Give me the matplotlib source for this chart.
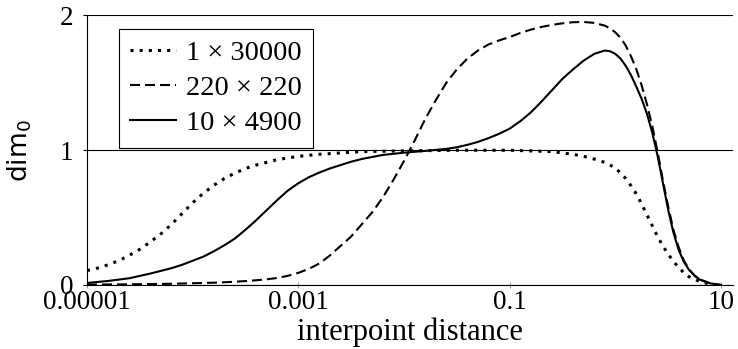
import numpy as np
import matplotlib
matplotlib.use("Agg")
import matplotlib.pyplot as plt

plt.rcParams['font.family'] = ['Liberation Serif', 'DejaVu Serif']
plt.rcParams['mathtext.fontset'] = 'dejavusans'
plt.rcParams['lines.scale_dashes'] = False

# curves, x given as log10(interpoint distance)
dotted_logx = [-5.0, -4.9, -4.8, -4.7, -4.6, -4.5, -4.4, -4.3, -4.2, -4.1, -4.0,
               -3.9, -3.8, -3.7, -3.6, -3.5, -3.4, -3.2, -3.0, -2.8, -2.6, -2.4,
               -2.0, -1.5, -1.0, -0.8, -0.6, -0.4, -0.3, -0.2, -0.1, 0.0, 0.05,
               0.1, 0.15, 0.2, 0.25, 0.3, 0.35, 0.4, 0.45, 0.5, 0.55, 0.6, 0.65,
               0.7, 0.8, 0.9, 0.95]
dotted_dim = [0.107, 0.125, 0.15, 0.18, 0.22, 0.265, 0.32, 0.38, 0.45, 0.53, 0.61,
              0.68, 0.74, 0.79, 0.83, 0.865, 0.89, 0.93, 0.955, 0.97, 0.98, 0.99,
              0.995, 1.0, 1.0, 0.995, 0.99, 0.97, 0.955, 0.935, 0.91, 0.87, 0.83,
              0.79, 0.735, 0.675, 0.6, 0.52, 0.44, 0.36, 0.29, 0.23, 0.175, 0.13, 0.09,
              0.06, 0.025, 0.006, 0.0]

dashed_logx = [-5.0, -4.6, -4.2, -3.8, -3.6, -3.4, -3.3, -3.2, -3.1, -3.0, -2.9,
               -2.8, -2.7, -2.6, -2.5, -2.4, -2.3, -2.2, -2.1, -2.0, -1.9, -1.8,
               -1.7, -1.6, -1.5, -1.4, -1.3, -1.2, -1.1, -1.0, -0.9, -0.8, -0.7,
               -0.6, -0.5, -0.4, -0.3, -0.2, -0.1, -0.05, 0.0, 0.05, 0.1, 0.15,
               0.2, 0.25, 0.3, 0.35, 0.4, 0.45, 0.5, 0.55, 0.6, 0.65, 0.7, 0.75,
               0.8, 0.9, 1.0]
dashed_dim = [0.003, 0.005, 0.009, 0.017, 0.024, 0.035, 0.042, 0.052, 0.068, 0.09, 0.12,
              0.16, 0.22, 0.29, 0.36, 0.45, 0.54, 0.65, 0.78, 0.92, 1.07, 1.23,
              1.37, 1.5, 1.6, 1.68, 1.74, 1.785, 1.815, 1.84, 1.87, 1.895, 1.915,
              1.93, 1.942, 1.95, 1.952, 1.945, 1.925, 1.905, 1.875, 1.835, 1.775, 1.695,
              1.6, 1.48, 1.34, 1.18, 0.99, 0.78, 0.585, 0.41, 0.28, 0.18, 0.115, 0.07,
              0.04, 0.012, 0.0]

solid_logx = [-5.0, -4.8, -4.6, -4.4, -4.2, -4.1, -4.0, -3.9, -3.8, -3.7, -3.6,
              -3.5, -3.4, -3.3, -3.2, -3.1, -3.0, -2.9, -2.8, -2.7, -2.6, -2.5,
              -2.4, -2.2, -2.0, -1.8, -1.6, -1.5, -1.4, -1.3, -1.2, -1.1, -1.0,
              -0.9, -0.8, -0.7, -0.6, -0.5, -0.4, -0.3, -0.2, -0.1, -0.05, 0.0,
              0.05, 0.1, 0.15, 0.2, 0.25, 0.3, 0.35, 0.4, 0.45, 0.5, 0.55, 0.6,
              0.65, 0.7, 0.75, 0.8, 0.9, 1.0]
solid_dim = [0.015, 0.03, 0.05, 0.085, 0.125, 0.15, 0.18, 0.21, 0.25, 0.295, 0.345,
             0.41, 0.48, 0.555, 0.63, 0.7, 0.755, 0.8, 0.835, 0.865, 0.89, 0.915,
             0.935, 0.965, 0.982, 0.995, 1.01, 1.022, 1.04, 1.062, 1.09, 1.122, 1.16,
             1.215, 1.28, 1.36, 1.445, 1.53, 1.6, 1.665, 1.715, 1.74, 1.735, 1.715,
             1.68, 1.625, 1.555, 1.47, 1.38, 1.27, 1.13, 0.96, 0.76, 0.56, 0.39, 0.26,
             0.17, 0.11, 0.07, 0.04, 0.012, 0.0]

labels = ['1 \u00d7 30000', '220 \u00d7 220', '10 \u00d7 4900']

xticks = [1e-5, 1e-3, 1e-1, 10]
xticklabels = ['0.00001', '0.001', '0.1', '10']
yticks = [0, 1, 2]

fig = plt.figure(figsize=(7.38, 3.49), dpi=100)
ax = fig.add_axes([0.1179, 0.1834, 0.8753, 0.7722])

ax.plot(np.power(10.0, dotted_logx), dotted_dim, color='black', lw=2.2,
        linestyle=(0, (2.2, 4.4)), label=labels[0])
ax.plot(np.power(10.0, dashed_logx), dashed_dim, color='black', lw=1.5,
        linestyle=(0, (7.2, 3.6)), label=labels[1])
ax.plot(np.power(10.0, solid_logx), solid_dim, color='black', lw=1.5,
        label=labels[2])

ax.set_xscale('log')
ax.set_xlim(1e-5, 13.0)
ax.set_ylim(0, 2)
ax.set_xticks(xticks)
ax.set_xticklabels(xticklabels)
ax.minorticks_off()
ax.set_yticks(yticks)

ax.grid(axis='y', color='black', lw=0.8)
ax.set_axisbelow(True)
for s in ['top', 'right']:
    ax.spines[s].set_visible(False)
for s in ['left', 'bottom']:
    ax.spines[s].set_linewidth(0.8)

ax.tick_params(axis='x', direction='inout', length=5, width=0.8, color='#999999',
               labelsize=19.5, pad=1)
ax.tick_params(axis='y', direction='out', length=3, width=0.8, labelsize=19.5, pad=7)

ax.set_xlabel('interpoint distance', fontsize=22)
ax.xaxis.set_label_coords(0.5, -0.12)
ax.set_ylabel(r'$\mathrm{dim}_0$', fontsize=19)
ax.yaxis.set_label_coords(-0.082, 0.5)

leg = ax.legend(loc='upper left', bbox_to_anchor=(0.0495, 0.95), borderaxespad=0,
                fontsize=20.5, frameon=True, fancybox=False, edgecolor='black',
                handlelength=1.6, handletextpad=0.35, labelspacing=0.32,
                borderpad=0.4)
leg.get_frame().set_linewidth(0.8)
leg.get_frame().set_alpha(1)

fig.savefig('out.png', dpi=100)
